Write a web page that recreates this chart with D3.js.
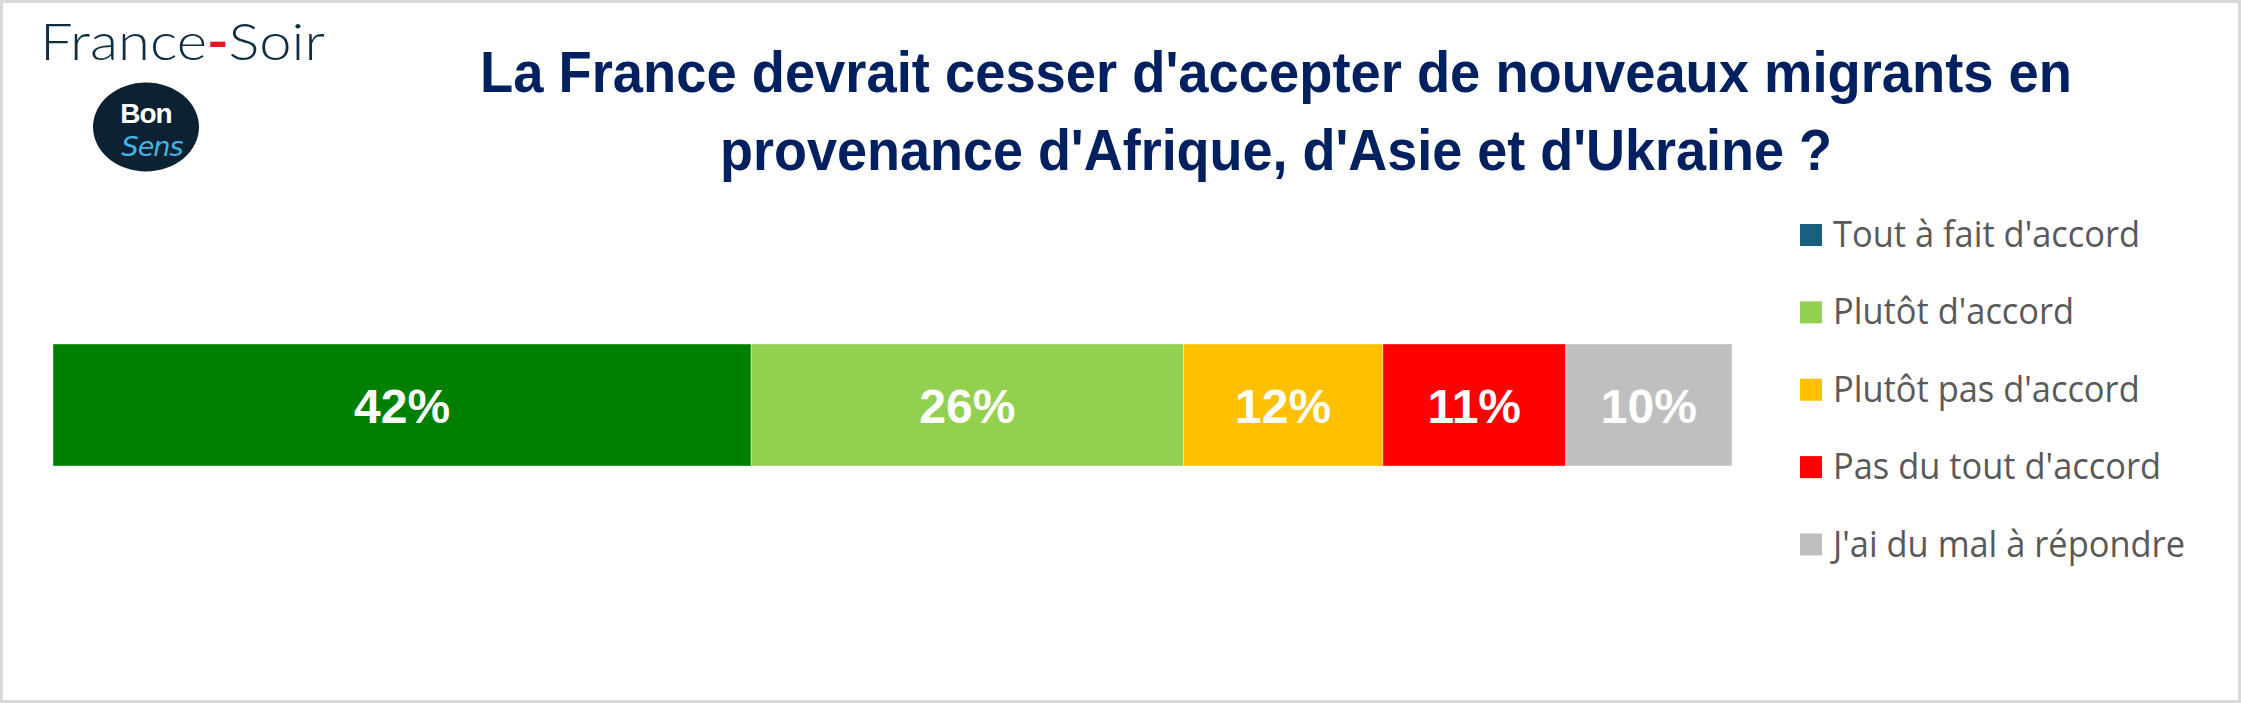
<!DOCTYPE html>
<html>
<head>
<meta charset="utf-8">
<script src="https://cdnjs.cloudflare.com/ajax/libs/d3/7.8.5/d3.min.js"></script>
<style>
  html, body { margin: 0; padding: 0; background: #ffffff; }
  svg { display: block; }
</style>
</head>
<body>
<svg id="chart" width="2241" height="703"></svg>
<script>
// ---- Data ----
const categories = ["Tout à fait d'accord", "Plutôt d'accord", "Plutôt pas d'accord", "Pas du tout d'accord", "J'ai du mal à répondre"];
const values = [42, 26, 12, 11, 10];
const barColors = ["#008000", "#92d050", "#ffc000", "#ff0000", "#bfbfbf"];
const legendColors = ["#1a5f80", "#92d050", "#ffc000", "#ff0000", "#bfbfbf"];
const valueLabels = ["42%", "26%", "12%", "11%", "10%"];
const titleLines = ["La France devrait cesser d'accepter de nouveaux migrants en", "provenance d'Afrique, d'Asie et d'Ukraine ?"];

const W = 2241, H = 703;
const svg = d3.select("#chart");

// frame
svg.append("rect").attr("x", 0).attr("y", 0).attr("width", W).attr("height", H).attr("fill", "#d9d9d9");
svg.append("rect").attr("x", 3).attr("y", 3).attr("width", W - 6).attr("height", H - 6).attr("fill", "#ffffff");

// ---- Logo France-Soir ----
const fs = svg.append("text")
  .attr("x", 40).attr("y", 60)
  .attr("font-family", "Lato, 'Open Sans', sans-serif")
  .attr("font-weight", 300)
  .attr("font-size", 52)
  .attr("fill", "#0d2d40")
  .attr("textLength", 285)
  .attr("lengthAdjust", "spacingAndGlyphs");
fs.append("tspan").text("France");
fs.append("tspan").attr("fill", "#e8141b").attr("font-weight", 700).text("-");
fs.append("tspan").text("Soir");

// Bon Sens badge
const badge = svg.append("g");
badge.append("ellipse").attr("cx", 146).attr("cy", 127).attr("rx", 53).attr("ry", 44.5).attr("fill", "#0c2233");
badge.append("text").attr("x", 146).attr("y", 123).attr("text-anchor", "middle")
  .attr("font-family", "'Liberation Sans', Arial, sans-serif").attr("font-weight", 700)
  .attr("font-size", 28).attr("fill", "#ffffff").attr("letter-spacing", -1).text("Bon");
badge.append("text").attr("x", 152).attr("y", 156).attr("text-anchor", "middle")
  .attr("font-family", "'DejaVu Sans', sans-serif").attr("font-style", "italic")
  .attr("font-size", 27).attr("fill", "#41b6e6").attr("letter-spacing", -1).text("Sens");

// ---- Title ----
const titleBaselines = [92, 170];
const titleWidths = [1592, 1112];
titleLines.forEach((t, i) => {
  svg.append("text")
    .attr("x", 1276).attr("y", titleBaselines[i])
    .attr("text-anchor", "middle")
    .attr("font-family", "'Liberation Sans', Arial, sans-serif")
    .attr("font-weight", 700)
    .attr("font-size", 58)
    .attr("fill", "#002060")
    .attr("textLength", titleWidths[i])
    .attr("lengthAdjust", "spacingAndGlyphs")
    .text(t);
});

// ---- Stacked bar ----
const total = d3.sum(values);
const x = d3.scaleLinear().domain([0, total]).range([53, 1732]);
const y = d3.scaleBand().domain(["q"]).range([344, 466]).padding(0);

const stackData = [];
let acc = 0;
values.forEach((v, i) => { stackData.push({ x0: acc, x1: acc + v, v: v, i: i }); acc += v; });

const bars = svg.append("g");
bars.selectAll("rect").data(stackData).join("rect")
  .attr("x", d => x(d.x0))
  .attr("y", y("q"))
  .attr("width", d => x(d.x1) - x(d.x0))
  .attr("height", y.bandwidth())
  .attr("fill", d => barColors[d.i])
  .attr("stroke", "#ffffff")
  .attr("stroke-opacity", 0.4)
  .attr("stroke-width", 1);

bars.selectAll("text").data(stackData).join("text")
  .attr("x", d => (x(d.x0) + x(d.x1)) / 2)
  .attr("y", y("q") + y.bandwidth() / 2 + 18)
  .attr("text-anchor", "middle")
  .attr("font-family", "'Liberation Sans', Arial, sans-serif")
  .attr("font-weight", 700)
  .attr("font-size", 48)
  .attr("fill", "#ffffff")
  .text(d => valueLabels[d.i]);

// ---- Legend ----
const ly = d3.scalePoint().domain(categories).range([235, 544.5]);
const legend = svg.append("g");
const items = legend.selectAll("g").data(categories).join("g")
  .attr("transform", d => `translate(0, ${ly(d)})`);
items.append("rect").attr("x", 1800).attr("y", -11).attr("width", 22).attr("height", 22)
  .attr("fill", (d, i) => legendColors[i]);
const ltexts = items.append("text")
  .attr("x", 1833).attr("y", 12)
  .attr("font-family", "'Open Sans', 'Noto Sans', sans-serif")
  .attr("font-size", 36)
  .attr("fill", "#595959")
  .text(d => d);
// compress horizontally to match the narrow Office font
const widest = d3.max(ltexts.nodes(), n => n.getComputedTextLength());
const ratio = 352 / widest;
ltexts.each(function() {
  const w = this.getComputedTextLength();
  d3.select(this).attr("textLength", w * ratio).attr("lengthAdjust", "spacingAndGlyphs");
});
</script>
</body>
</html>
